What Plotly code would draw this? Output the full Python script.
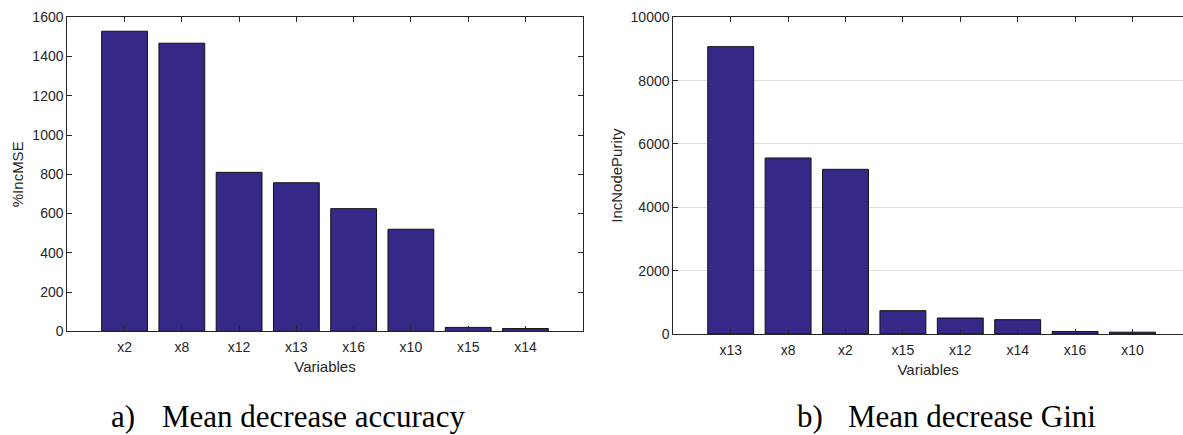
import plotly.graph_objects as go

# ---------------- data ----------------
vars_a = ["x2", "x8", "x12", "x13", "x16", "x10", "x15", "x14"]
incmse = [1529, 1468, 810, 757, 625, 520, 20, 14]

vars_b = ["x13", "x8", "x2", "x15", "x12", "x14", "x16", "x10"]
incnodepurity = [9074, 5558, 5200, 737, 505, 453, 80, 58]

yticks_a = [0, 200, 400, 600, 800, 1000, 1200, 1400, 1600]
yticks_b = [0, 2000, 4000, 6000, 8000, 10000]

caption_a = ("a)", "Mean decrease accuracy")
caption_b = ("b)", "Mean decrease Gini")

# ---------------- style ----------------
W, H = 1183, 435
BAR = "rgb(53,41,135)"
AX = "#262626"
FONT = "Liberation Sans, Arial, sans-serif"

def px_x(p):
    return p / W

def px_y(p):
    return 1 - p / H

fig = go.Figure()
fig.add_trace(go.Bar(x=vars_a, y=incmse, width=0.8, xaxis="x", yaxis="y",
                     marker=dict(color=BAR, line=dict(color="#111111", width=1)),
                     showlegend=False))
fig.add_trace(go.Bar(x=vars_b, y=incnodepurity, width=0.8, xaxis="x2", yaxis="y2",
                     marker=dict(color=BAR, line=dict(color="#111111", width=1)),
                     showlegend=False))

common_x = dict(type="category", showline=True, linecolor=AX, linewidth=1,
                ticks="inside", ticklen=5, tickcolor=AX, tickwidth=1,
                tickfont=dict(family=FONT, size=14, color=AX), ticklabelstandoff=3,
                showgrid=False, zeroline=False, automargin=False,
                title=dict(text="Variables", font=dict(family=FONT, size=15, color=AX), standoff=7))
common_y = dict(showline=True, linecolor=AX, linewidth=1,
                ticks="inside", ticklen=5, tickcolor=AX, tickwidth=1,
                tickfont=dict(family=FONT, size=14, color=AX),
                zeroline=False, tickformat="d", automargin=False)

fig.update_layout(
    width=W, height=H,
    margin=dict(l=0, r=0, t=0, b=0, autoexpand=False),
    paper_bgcolor="white", plot_bgcolor="white",
    bargap=0.2,
    xaxis=dict(common_x, domain=[px_x(67.3), px_x(582.7)], range=[-1, 8],
               mirror="ticks", anchor="y"),
    yaxis=dict(common_y, domain=[px_y(331.3), px_y(17.3)], range=[0, 1600],
               tickvals=yticks_a, mirror="ticks", showgrid=False, anchor="x",
               title=dict(text="%IncMSE", font=dict(family=FONT, size=15, color=AX), standoff=5)),
    xaxis2=dict(common_x, domain=[px_x(673.3), 1.0], range=[-1, 7.88],
                mirror="ticks", anchor="y2"),
    yaxis2=dict(common_y, domain=[px_y(334), px_y(17.3)], range=[0, 10000],
                tickvals=yticks_b, mirror=False, showgrid=True, gridcolor="#e0e0e0",
                gridwidth=1, anchor="x2",
                title=dict(text="IncNodePurity", font=dict(family=FONT, size=15, color=AX), standoff=4)),
)

SERIF = "Liberation Serif, Times New Roman, serif"
for (lab, txt), x0, x1 in [(caption_a, 109, 160), (caption_b, 795, 846)]:
    fig.add_annotation(text=lab, xref="paper", yref="paper", x=px_x(x0), y=px_y(416),
                       xanchor="left", yanchor="middle", showarrow=False,
                       font=dict(family=SERIF, size=31, color="black"))
    fig.add_annotation(text=txt, xref="paper", yref="paper", x=px_x(x1), y=px_y(416),
                       xanchor="left", yanchor="middle", showarrow=False,
                       font=dict(family=SERIF, size=31, color="black"))

fig.write_html("out.html")
